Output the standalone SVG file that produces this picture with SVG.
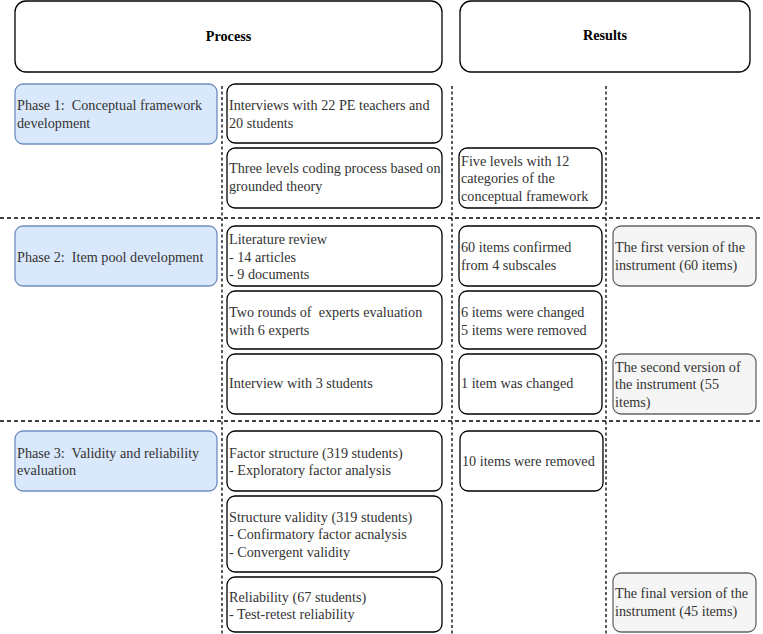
<svg xmlns="http://www.w3.org/2000/svg" width="763" height="634" viewBox="0 0 763 634">
<style>
text{font-family:"Liberation Serif","Times New Roman",serif;font-size:14.2px;fill:#333;white-space:pre}
.hdr{font-weight:bold;fill:#000;text-anchor:middle}
.box{fill:#fff;stroke:#000;stroke-width:1.3}
.phase{fill:#dae8fc;stroke:#6c8ebf;stroke-width:1.3}
.ver{fill:#f5f5f5;stroke:#666;stroke-width:1.3}
.dv{stroke:#000;stroke-width:1.3;stroke-dasharray:3 2.5;fill:none}
.dh{stroke:#000;stroke-width:1.3;stroke-dasharray:4 3;fill:none}
</style>
<rect width="763" height="634" fill="#fff"/>
<g id="connectors">
<line class="dv" x1="222" y1="86" x2="222" y2="634"/>
<line class="dv" x1="452" y1="86" x2="452" y2="634"/>
<line class="dv" x1="606" y1="86" x2="606" y2="634"/>
<line class="dh" x1="0" y1="218" x2="763" y2="218"/>
<line class="dh" x1="0" y1="421" x2="763" y2="421"/>
</g>
<g id="hdr-process"><rect class="box" x="15" y="1" width="427" height="71" rx="11"/><text class="hdr" x="228.5" y="41">Process</text></g>
<g id="hdr-results"><rect class="box" x="460" y="1" width="290" height="71" rx="11"/><text class="hdr" x="605" y="40">Results</text></g>

<g id="phase1"><rect class="phase" x="15" y="84" width="202" height="60" rx="8"/><text x="17" y="110">Phase 1:  Conceptual framework</text><text x="17" y="128">development</text></g>
<g id="phase2"><rect class="phase" x="15" y="226" width="202" height="60" rx="8"/><text x="17" y="262">Phase 2:  Item pool development</text></g>
<g id="phase3"><rect class="phase" x="15" y="431" width="202" height="60" rx="8"/><text x="17" y="457.5">Phase 3:  Validity and reliability</text><text x="17" y="475">evaluation</text></g>

<g id="p-interviews"><rect class="box" x="227" y="84" width="215" height="59" rx="8"/><text x="229" y="110">Interviews with 22 PE teachers and</text><text x="229" y="128">20 students</text></g>
<g id="p-coding"><rect class="box" x="227" y="148" width="215" height="60" rx="8"/><text x="229" y="173">Three levels coding process based on</text><text x="229" y="191">grounded theory</text></g>
<g id="p-literature"><rect class="box" x="227" y="226" width="215" height="60" rx="8"/><text x="229" y="244">Literature review</text><text x="229" y="261.5">- 14 articles</text><text x="229" y="279">- 9 documents</text></g>
<g id="p-experts"><rect class="box" x="227" y="291" width="215" height="58" rx="8"/><text x="229" y="317">Two rounds of  experts evaluation</text><text x="229" y="334.5">with 6 experts</text></g>
<g id="p-interview3"><rect class="box" x="227" y="354" width="215" height="60" rx="8"/><text x="229" y="388">Interview with 3 students</text></g>
<g id="p-factor"><rect class="box" x="227" y="431" width="215" height="60" rx="8"/><text x="229" y="457.5">Factor structure (319 students)</text><text x="229" y="475">- Exploratory factor analysis</text></g>
<g id="p-structure"><rect class="box" x="227" y="496" width="215" height="76" rx="8"/><text x="229" y="521.5">Structure validity (319 students)</text><text x="229" y="539">- Confirmatory factor acnalysis</text><text x="229" y="556.5">- Convergent validity</text></g>
<g id="p-reliability"><rect class="box" x="227" y="577" width="215" height="55" rx="8"/><text x="229" y="601.5">Reliability (67 students)</text><text x="229" y="619">- Test-retest reliability</text></g>

<g id="r-five"><rect class="box" x="459" y="148" width="143" height="60" rx="8"/><text x="461" y="165.5">Five levels with 12</text><text x="461" y="183">categories of the</text><text x="461" y="200.5">conceptual framework</text></g>
<g id="r-60"><rect class="box" x="459" y="226" width="143" height="60" rx="8"/><text x="461" y="252">60 items confirmed</text><text x="461" y="270">from 4 subscales</text></g>
<g id="r-changed"><rect class="box" x="459" y="291" width="143" height="58" rx="8"/><text x="461" y="317">6 items were changed</text><text x="461" y="334.5">5 items were removed</text></g>
<g id="r-1item"><rect class="box" x="459" y="354" width="143" height="60" rx="8"/><text x="461" y="388">1 item was changed</text></g>
<g id="r-10"><rect class="box" x="460" y="431" width="143" height="60" rx="8"/><text x="462" y="466">10 items were removed</text></g>

<g id="v-first"><rect class="ver" x="613" y="226" width="143" height="60" rx="8"/><text x="615" y="252">The first version of the</text><text x="615" y="270">instrument (60 items)</text></g>
<g id="v-second"><rect class="ver" x="613" y="354" width="143" height="60" rx="8"/><text x="615" y="371.5">The second version of</text><text x="615" y="389">the instrument (55</text><text x="615" y="406.5">items)</text></g>
<g id="v-final"><rect class="ver" x="613" y="573" width="143" height="59" rx="8"/><text x="615" y="598">The final version of the</text><text x="615" y="616">instrument (45 items)</text></g>
</svg>
